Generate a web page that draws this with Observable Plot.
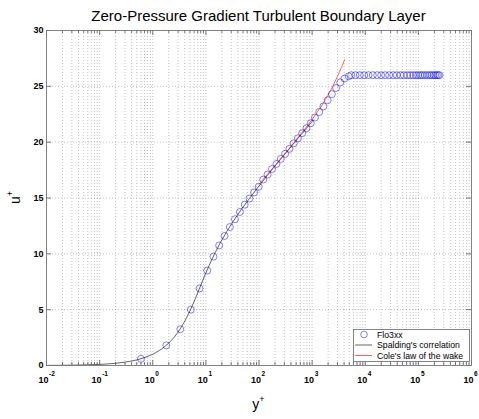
<!DOCTYPE html>
<html><head><meta charset="utf-8">
<script src="https://cdn.jsdelivr.net/npm/d3@7"></script>
<script src="https://cdn.jsdelivr.net/npm/@observablehq/plot@0.6"></script>
<style>
body{margin:0;background:#fff;}
svg{display:block;font-family:"Liberation Sans",Arial,Helvetica,sans-serif;}
</style>
</head><body><div id="chart"></div>
<script>
const titleText = "Zero-Pressure Gradient Turbulent Boundary Layer";
const xLabelBase = "y", xLabelSup = "+";
const yLabelBase = "u", yLabelSup = "+";
const legendLabels = ["Flo3xx", "Spalding's correlation", "Cole's law of the wake"];
const xTickExponents = [-2, -1, 0, 1, 2, 3, 4, 5, 6];
const yTickValues = [0, 5, 10, 15, 20, 25, 30];

// Flo3xx data (y+, u+)
const floYPlus = [0.6, 1.8, 3.3, 5.2, 7.6, 10.6, 13.9, 17.8, 22.5, 28.3, 35.3, 43.7, 53.9, 66.2, 80.9, 98.6,
  120, 145, 176, 213, 257, 310, 373, 450, 541, 650, 782, 940, 1130, 1360, 1630, 1960, 2350, 2820, 3390, 4070, 4880,
  5445, 6550, 7900, 9550, 11500, 13870, 16790, 19950, 23760, 28250, 33590, 39260, 46100, 53200, 61700, 70200,
  80000, 89500, 99300, 109700, 119600, 132200, 146600, 162000, 176600, 192600, 207300, 222300, 236200, 250000];
const floUPlus = [0.6, 1.8, 3.25, 5.0, 6.9, 8.5, 9.75, 10.75, 11.6, 12.4, 13.1, 13.75, 14.4, 14.95, 15.5, 16.0,
  16.65, 17.1, 17.6, 18.05, 18.5, 18.95, 19.4, 19.9, 20.35, 20.8, 21.25, 21.7, 22.2, 22.7, 23.2, 23.75, 24.3, 24.85, 25.35, 25.7, 25.9,
  26.0, 26.0, 26.0, 26.0, 26.0, 26.0, 26.0, 26.0, 26.0, 26.0, 26.0, 26.0, 26.0, 26.0, 26.0, 26.0,
  26.0, 26.0, 26.0, 26.0, 26.0, 26.0, 26.0, 26.0, 26.0, 26.0, 26.0, 26.0, 26.0, 26.0];

// Spalding's correlation (y+, u+)
const spaldingYPlus = [0.01, 0.02, 0.03, 0.05, 0.07, 0.1, 0.15, 0.2, 0.3, 0.4, 0.5, 0.7, 1, 1.5, 2, 2.5, 3.016, 4.056, 5.152,
  6.352, 7.735, 9.42, 11.6, 14.55, 18.72, 24.76, 33.68, 46.99, 66.98, 97.1, 142.5, 211.2, 314.8, 471.3, 707.4, 1064];
const spaldingUPlus = [0.01, 0.02, 0.03, 0.05, 0.07, 0.1, 0.15, 0.2, 0.3, 0.4, 0.5, 0.7, 1, 1.5, 2, 2.5, 3, 4, 5,
  6, 7, 8, 9, 10, 11, 12, 13, 14, 15, 16, 17, 18, 19, 20, 21, 22];

// Cole's law of the wake (y+, u+)
const coleYPlus = [100, 200, 400, 700, 1000, 1500, 2000, 2500, 3000, 3500, 4090];
const coleUPlus = [16.23, 17.92, 19.62, 21.07, 22.03, 23.24, 24.22, 25.09, 25.89, 26.61, 27.38];

const flo = floYPlus.map((y, i) => ({y, u: floUPlus[i]}));
const spalding = spaldingYPlus.map((y, i) => ({y, u: spaldingUPlus[i]}));
const cole = coleYPlus.map((y, i) => ({y, u: coleUPlus[i]}));

const majorX = xTickExponents.map(e => Math.pow(10, e));
const minorX = [];
for (let e = -2; e < 6; e++) for (let k = 2; k <= 9; k++) minorX.push(k * Math.pow(10, e));

const W = 479, H = 419, mL = 46, mR = 8, mT = 30, mB = 54;
const pw = W - mL - mR, ph = H - mT - mB;
const gridStyle = {stroke: "#000", strokeOpacity: 0.3, strokeDasharray: "1,2", strokeWidth: 0.8};
const tickStyle = {stroke: "#555", strokeWidth: 0.8};
const FONT = "Liberation Sans, Arial, sans-serif";

function decorations(index, scales, values, dims) {
  const g = d3.create("svg:g").attr("font-family", FONT).attr("text-anchor", "start");
  g.append("text").attr("x", mL + pw / 2).attr("y", 21).attr("text-anchor", "middle")
    .attr("font-size", 15).attr("fill", "#000").text(titleText);
  const xl = g.append("text").attr("x", mL + pw / 2).attr("y", 409).attr("text-anchor", "middle")
    .attr("font-size", 14).attr("fill", "#000");
  xl.append("tspan").text(xLabelBase);
  xl.append("tspan").attr("font-size", 9).attr("dy", -7).text(xLabelSup);
  const yl = g.append("text").attr("transform", `translate(20,${mT + ph / 2}) rotate(-90)`)
    .attr("text-anchor", "middle").attr("font-size", 14).attr("fill", "#000");
  yl.append("tspan").text(yLabelBase);
  yl.append("tspan").attr("font-size", 9).attr("dy", -7).text(yLabelSup);
  const lx = 353.5, ly = 329.5, lw = 116, lh = 32;
  const lg = g.append("g");
  lg.append("rect").attr("x", lx).attr("y", ly).attr("width", lw).attr("height", lh)
    .attr("fill", "#fff").attr("stroke", "#666").attr("stroke-width", 0.8);
  const rows = [334.5, 345, 355.5];
  lg.append("circle").attr("cx", 364).attr("cy", rows[0]).attr("r", 3.3)
    .attr("fill", "none").attr("stroke", "blue").attr("stroke-width", 0.7).attr("stroke-opacity", 0.7);
  lg.append("line").attr("x1", 355).attr("x2", 372).attr("y1", rows[1]).attr("y2", rows[1])
    .attr("stroke", "#000").attr("stroke-width", 0.6);
  lg.append("line").attr("x1", 355).attr("x2", 372).attr("y1", rows[2]).attr("y2", rows[2])
    .attr("stroke", "red").attr("stroke-width", 0.6);
  legendLabels.forEach((t, i) => {
    lg.append("text").attr("x", 377).attr("y", rows[i] + 3).attr("font-size", 8.7)
      .attr("text-anchor", "start").attr("fill", "#000").text(t);
  });
  return g.node();
}

const chart = Plot.plot({
  width: W, height: H,
  marginLeft: mL, marginRight: mR, marginTop: mT, marginBottom: mB,
  style: {fontFamily: FONT, background: "#fff"},
  x: {type: "log", domain: [1e-2, 1e6], axis: null},
  y: {domain: [0, 30], axis: null},
  marks: [
    Plot.ruleX(minorX.concat(majorX.slice(1, -1)), gridStyle),
    Plot.ruleY(yTickValues.slice(1, -1), gridStyle),
    Plot.dot(flo, {x: "y", y: "u", r: 3.5, stroke: "blue", strokeWidth: 0.7, strokeOpacity: 0.7, fill: "none"}),
    Plot.line(spalding, {x: "y", y: "u", stroke: "#000", strokeWidth: 0.6}),
    Plot.line(cole, {x: "y", y: "u", stroke: "red", strokeWidth: 0.6}),
    Plot.ruleX(majorX, {...tickStyle, insetTop: ph - 5}),
    Plot.ruleX(majorX, {...tickStyle, insetBottom: ph - 5}),
    Plot.ruleX(minorX, {...tickStyle, insetTop: ph - 3}),
    Plot.ruleX(minorX, {...tickStyle, insetBottom: ph - 3}),
    Plot.ruleY(yTickValues, {...tickStyle, insetRight: pw - 5}),
    Plot.ruleY(yTickValues, {...tickStyle, insetLeft: pw - 5}),
    Plot.frame({stroke: "#777", strokeWidth: 0.9}),
    Plot.text(majorX, {x: d => d, frameAnchor: "bottom", text: () => "10", textAnchor: "end", dx: 2, dy: 17,
      fontSize: 9, fontWeight: "bold", fill: "#000"}),
    Plot.text(majorX, {x: d => d, frameAnchor: "bottom", text: d => String(Math.round(Math.log10(d))),
      textAnchor: "start", dx: 2.5, dy: 10, fontSize: 6.5, fontWeight: "bold", fill: "#000"}),
    Plot.text(yTickValues, {y: d => d, frameAnchor: "left", text: d => String(d), textAnchor: "end", dx: -3,
      fontSize: 9, fontWeight: "bold", fill: "#000"}),
    decorations
  ]
});
document.getElementById("chart").appendChild(chart);
</script>
</body></html>
